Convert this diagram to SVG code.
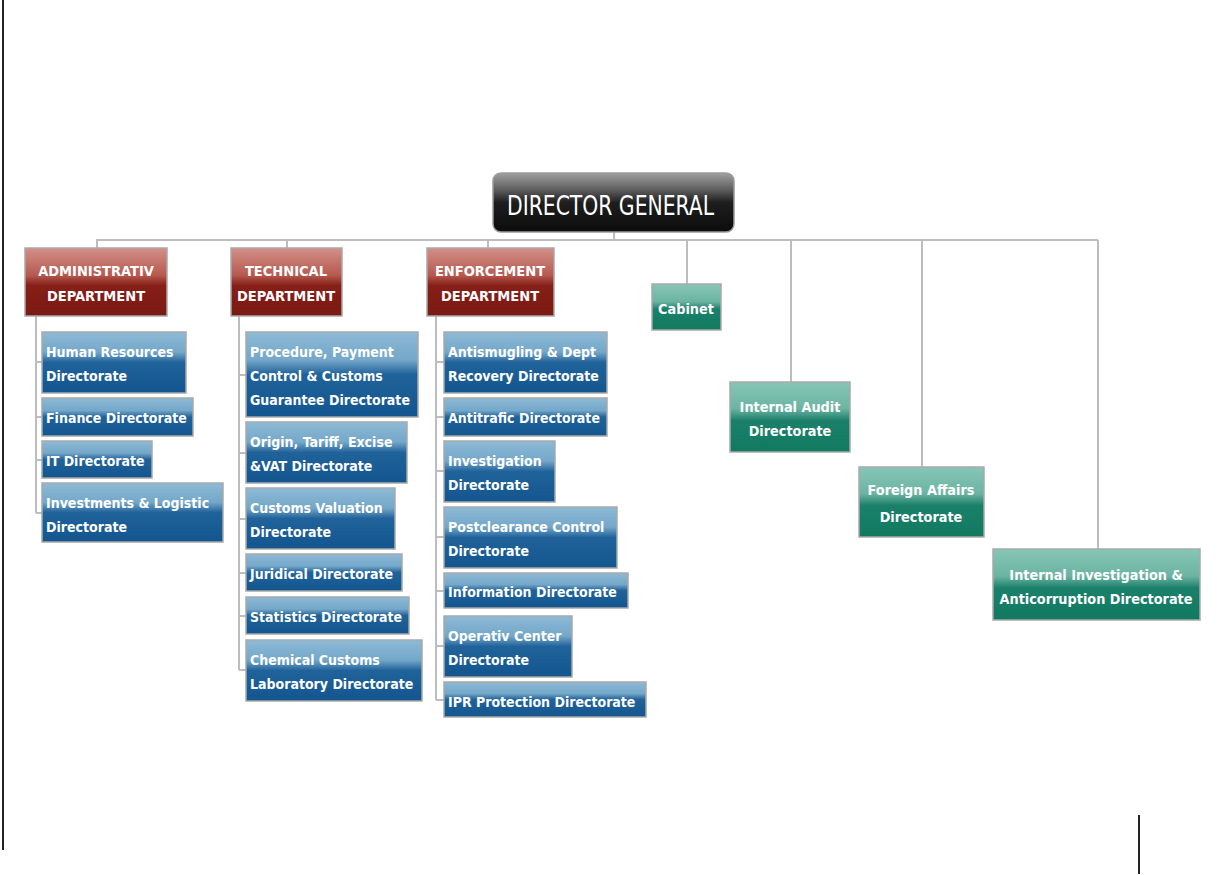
<svg xmlns="http://www.w3.org/2000/svg" width="1223" height="875" viewBox="0 0 1223 875">
<defs>
<linearGradient id="gBlue" x1="0" y1="0" x2="0" y2="1">
<stop offset="0" stop-color="#8dbad6"/><stop offset="0.33" stop-color="#74a7c9"/><stop offset="0.5" stop-color="#20629a"/><stop offset="1" stop-color="#13568f"/>
</linearGradient>
<linearGradient id="gRed" x1="0" y1="0" x2="0" y2="1">
<stop offset="0" stop-color="#d39088"/><stop offset="0.4" stop-color="#b65a50"/><stop offset="0.55" stop-color="#861f18"/><stop offset="1" stop-color="#7a1912"/>
</linearGradient>
<linearGradient id="gGreen" x1="0" y1="0" x2="0" y2="1">
<stop offset="0" stop-color="#86c6b6"/><stop offset="0.38" stop-color="#6cb4a2"/><stop offset="0.55" stop-color="#1a806a"/><stop offset="1" stop-color="#107a60"/>
</linearGradient>
<linearGradient id="gBlack" x1="0" y1="0" x2="0" y2="1">
<stop offset="0" stop-color="#a0a0a0"/><stop offset="0.3" stop-color="#5a5a5a"/><stop offset="0.5" stop-color="#1e1e1e"/><stop offset="1" stop-color="#0c0c0c"/>
</linearGradient>
</defs>
<style>
.conn line{stroke:#bdbdbd;stroke-width:2;fill:none}
.frame{stroke:#222;stroke-width:2}
.b{fill:url(#gBlue);stroke:#a9a9a9;stroke-width:1.5}
.r{fill:url(#gRed);stroke:#a9a9a9;stroke-width:1.5}
.g{fill:url(#gGreen);stroke:#a9a9a9;stroke-width:1.5}
.k{fill:url(#gBlack);stroke:#9a9a9a;stroke-width:1.5}
text{font-family:"Liberation Sans Narrow","DejaVu Sans Condensed","Roboto Condensed","Liberation Sans",sans-serif;font-weight:bold;fill:#fff;font-size:14px}
.c{text-anchor:middle}
.d{font-size:14.5px}
.gt{font-size:14.3px}
.dg{font-size:27px;font-weight:normal}
</style>
<line class="frame" x1="3" y1="0" x2="3" y2="850"/>
<line class="frame" x1="1139" y1="815" x2="1139" y2="874"/>
<g id="connectors" class="conn">
<line x1="614" y1="232" x2="614" y2="240"/>
<line x1="96" y1="240" x2="1098" y2="240"/>
<line x1="97" y1="240" x2="97" y2="248"/>
<line x1="287" y1="240" x2="287" y2="248"/>
<line x1="488" y1="240" x2="488" y2="248"/>
<line x1="687" y1="240" x2="687" y2="284"/>
<line x1="791" y1="240" x2="791" y2="382"/>
<line x1="922" y1="240" x2="922" y2="467"/>
<line x1="1098" y1="240" x2="1098" y2="549"/>
<line x1="36" y1="316" x2="36" y2="513"/>
<line x1="36" y1="362" x2="42" y2="362"/>
<line x1="36" y1="417" x2="42" y2="417"/>
<line x1="36" y1="460" x2="42" y2="460"/>
<line x1="36" y1="513" x2="42" y2="513"/>
<line x1="239" y1="316" x2="239" y2="670"/>
<line x1="239" y1="375" x2="246" y2="375"/>
<line x1="239" y1="453" x2="246" y2="453"/>
<line x1="239" y1="519" x2="246" y2="519"/>
<line x1="239" y1="573" x2="246" y2="573"/>
<line x1="239" y1="616" x2="246" y2="616"/>
<line x1="239" y1="670" x2="246" y2="670"/>
<line x1="436" y1="316" x2="436" y2="700"/>
<line x1="436" y1="362" x2="444" y2="362"/>
<line x1="436" y1="417" x2="444" y2="417"/>
<line x1="436" y1="471" x2="444" y2="471"/>
<line x1="436" y1="537" x2="444" y2="537"/>
<line x1="436" y1="591" x2="444" y2="591"/>
<line x1="436" y1="646" x2="444" y2="646"/>
<line x1="436" y1="700" x2="444" y2="700"/>
</g>
<g id="director-general"><rect class="k" x="493" y="173" width="241" height="59" rx="8"/><text class="dg" x="507" y="215" textLength="207" lengthAdjust="spacingAndGlyphs">DIRECTOR GENERAL</text></g>
<g id="admin-dept"><rect class="r" x="25" y="248" width="142" height="68"/><text class="c d" x="96" y="276">ADMINISTRATIV</text><text class="c d" x="96" y="301">DEPARTMENT</text></g>
<g id="tech-dept"><rect class="r" x="231" y="248" width="111" height="68"/><text class="c d" x="286" y="276">TECHNICAL</text><text class="c d" x="286" y="301">DEPARTMENT</text></g>
<g id="enf-dept"><rect class="r" x="427" y="248" width="127" height="68"/><text class="c d" x="490" y="276">ENFORCEMENT</text><text class="c d" x="490" y="301">DEPARTMENT</text></g>
<g id="hr"><rect class="b" x="42" y="332" width="144" height="61"/><text x="46" y="357">Human Resources</text><text x="46" y="381">Directorate</text></g>
<g id="finance"><rect class="b" x="42" y="398" width="151" height="38"/><text x="46" y="423">Finance Directorate</text></g>
<g id="it"><rect class="b" x="42" y="441" width="110" height="37"/><text x="46" y="466">IT Directorate</text></g>
<g id="investments"><rect class="b" x="42" y="483" width="181" height="59"/><text x="46" y="508">Investments &amp; Logistic</text><text x="46" y="532">Directorate</text></g>
<g id="procedure"><rect class="b" x="246" y="332" width="172" height="85"/><text x="250" y="357">Procedure, Payment</text><text x="250" y="381">Control &amp; Customs</text><text x="250" y="405">Guarantee Directorate</text></g>
<g id="origin"><rect class="b" x="246" y="422" width="161" height="61"/><text x="250" y="447">Origin, Tariff, Excise</text><text x="250" y="471">&amp;VAT Directorate</text></g>
<g id="valuation"><rect class="b" x="246" y="488" width="149" height="61"/><text x="250" y="513">Customs Valuation</text><text x="250" y="537">Directorate</text></g>
<g id="juridical"><rect class="b" x="246" y="554" width="156" height="37"/><text x="250" y="579">Juridical Directorate</text></g>
<g id="statistics"><rect class="b" x="246" y="597" width="163" height="37"/><text x="250" y="622">Statistics Directorate</text></g>
<g id="chemical"><rect class="b" x="246" y="640" width="176" height="61"/><text x="250" y="665">Chemical Customs</text><text x="250" y="689">Laboratory Directorate</text></g>
<g id="antismugling"><rect class="b" x="444" y="332" width="163" height="61"/><text x="448" y="357">Antismugling &amp; Dept</text><text x="448" y="381">Recovery Directorate</text></g>
<g id="antitrafic"><rect class="b" x="444" y="398" width="163" height="38"/><text x="448" y="423">Antitrafic Directorate</text></g>
<g id="investigation"><rect class="b" x="444" y="441" width="111" height="61"/><text x="448" y="466">Investigation</text><text x="448" y="490">Directorate</text></g>
<g id="postclearance"><rect class="b" x="444" y="507" width="173" height="61"/><text x="448" y="532">Postclearance Control</text><text x="448" y="556">Directorate</text></g>
<g id="information"><rect class="b" x="444" y="573" width="184" height="35"/><text x="448" y="597">Information Directorate</text></g>
<g id="operativ"><rect class="b" x="444" y="616" width="128" height="61"/><text x="448" y="641">Operativ Center</text><text x="448" y="665">Directorate</text></g>
<g id="ipr"><rect class="b" x="444" y="682" width="202" height="35"/><text x="448" y="707">IPR Protection Directorate</text></g>
<g id="cabinet"><rect class="g" x="652" y="284" width="69" height="46"/><text class="c gt" x="686" y="314">Cabinet</text></g>
<g id="internal-audit"><rect class="g" x="730" y="382" width="120" height="70"/><text class="c gt" x="790" y="412">Internal Audit</text><text class="c gt" x="790" y="436">Directorate</text></g>
<g id="foreign-affairs"><rect class="g" x="859" y="467" width="125" height="70"/><text class="c gt" x="921" y="495">Foreign Affairs</text><text class="c gt" x="921" y="522">Directorate</text></g>
<g id="internal-investigation"><rect class="g" x="993" y="549" width="207" height="71"/><text class="c gt" x="1096" y="580">Internal Investigation &amp;</text><text class="c gt" x="1096" y="604">Anticorruption Directorate</text></g>
</svg>
